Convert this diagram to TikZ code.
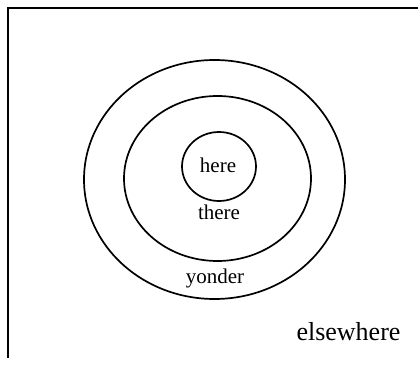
\documentclass[tikz,border=0pt]{standalone}
\usepackage{fontspec}
\setmainfont{Liberation Serif}
\begin{document}
\begin{tikzpicture}[x=1pt,y=1pt,
  ring/.style={draw=black,line width=1.7pt},
  lbl/.style={font=\fontsize{21}{24}\selectfont,anchor=base,inner sep=0pt},
  frame/.style={draw=black,line width=1.2pt}]
\useasboundingbox (0,0) rectangle (418,367);
% frame (top and left edges visible)
\coordinate (tl) at (8,359);
\coordinate (tr) at (418,359);
\coordinate (bl) at (8,9);
\draw[frame] (tr) -- (tl) -- (bl);
% rings
\draw[ring] (214.5,187.5) ellipse [x radius=130.5, y radius=119.5];
\draw[ring] (217.5,188.5) ellipse [x radius=93.5, y radius=82.5];
\draw[ring] (219,200.5) ellipse [x radius=37, y radius=34.5];
% labels
\node[lbl] (here) at (218,194) {here};
\node[lbl] (there) at (219,147.5) {there};
\node[lbl] (yonder) at (215,83) {yonder};
\node[font=\fontsize{26}{30}\selectfont,anchor=base,inner sep=0pt] (elsewhere) at (348.5,26.5) {elsewhere};
\end{tikzpicture}
\end{document}
